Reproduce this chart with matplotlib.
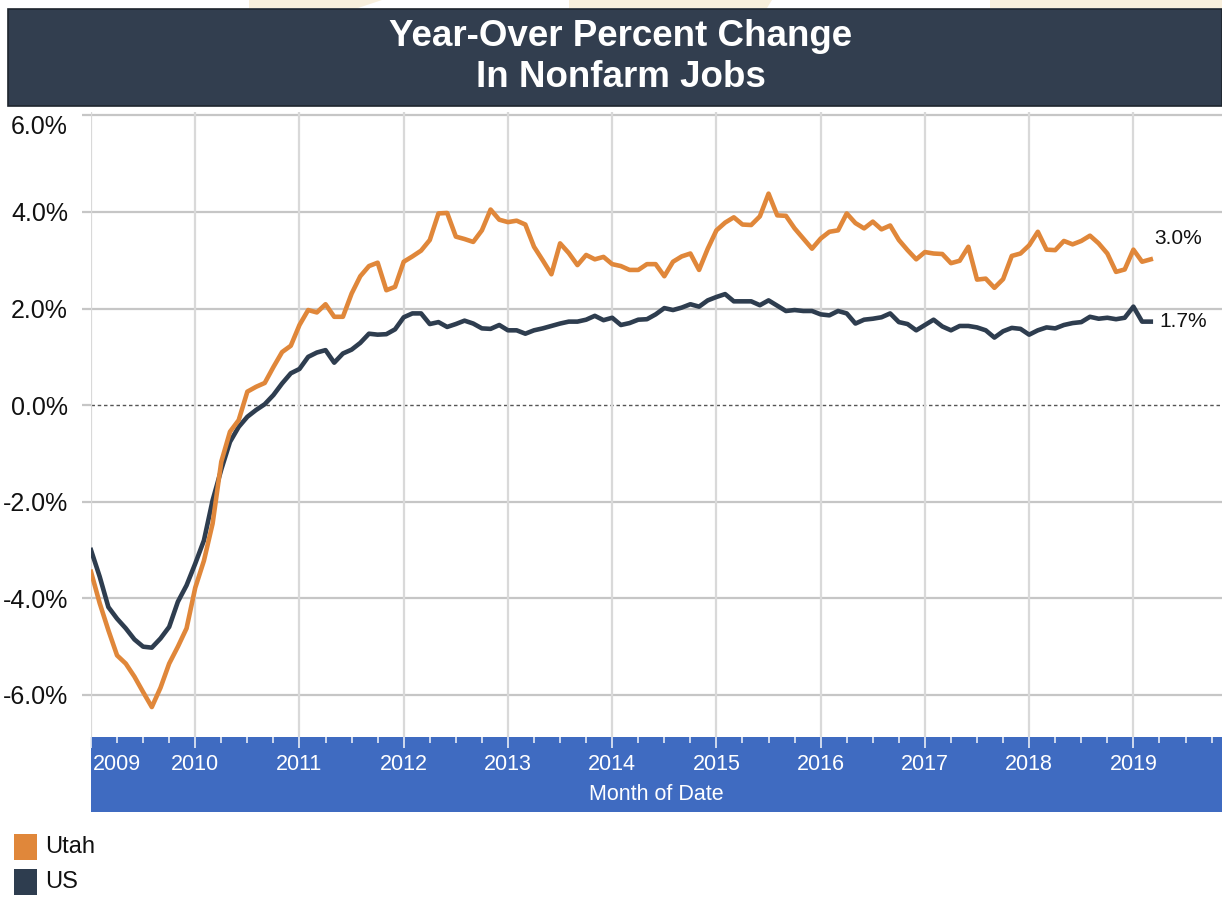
import matplotlib
matplotlib.use('Agg')
import matplotlib.pyplot as plt
import numpy as np
from matplotlib.patches import Rectangle, Polygon

plt.rcParams['font.family'] = ['Liberation Sans', 'DejaVu Sans']

# ---------------- data ----------------
title_text = 'Year-Over Percent Change\nIn Nonfarm Jobs'
x_label = 'Month of Date'
series_names = ['Utah', 'US']
years = [2009, 2010, 2011, 2012, 2013, 2014, 2015, 2016, 2017, 2018, 2019]
y_ticks = [-6, -4, -2, 0, 2, 4, 6]
y_tick_labels = ['-6.0%', '-4.0%', '-2.0%', '0.0%', '2.0%', '4.0%', '6.0%']

# monthly values, Jan 2009 .. Mar 2019
utah = [
    -3.45, -4.10, -4.66, -5.18, -5.35, -5.62, -5.94, -6.25, -5.85, -5.35, -5.00, -4.62,   # 2009
    -3.78, -3.22, -2.45, -1.17, -0.55, -0.31, 0.28, 0.38, 0.46, 0.79, 1.10, 1.23,        # 2010
    1.66, 1.97, 1.92, 2.09, 1.83, 1.83, 2.31, 2.67, 2.88, 2.95, 2.38, 2.45,              # 2011
    2.97, 3.08, 3.20, 3.42, 3.97, 3.98, 3.49, 3.44, 3.38, 3.62, 4.05, 3.84,              # 2012
    3.79, 3.82, 3.74, 3.28, 3.00, 2.71, 3.35, 3.15, 2.90, 3.11, 3.02, 3.07,              # 2013
    2.92, 2.88, 2.80, 2.80, 2.92, 2.92, 2.67, 2.97, 3.08, 3.14, 2.80, 3.24,              # 2014
    3.62, 3.78, 3.89, 3.74, 3.73, 3.91, 4.38, 3.93, 3.92, 3.66, 3.45, 3.24,              # 2015
    3.45, 3.59, 3.62, 3.97, 3.77, 3.66, 3.80, 3.64, 3.72, 3.42, 3.21, 3.02,              # 2016
    3.17, 3.14, 3.13, 2.94, 2.99, 3.28, 2.60, 2.62, 2.43, 2.61, 3.09, 3.14,              # 2017
    3.31, 3.59, 3.22, 3.21, 3.40, 3.33, 3.40, 3.51, 3.35, 3.14, 2.76, 2.81,              # 2018
    3.22, 2.97, 3.02,                                                                    # 2019
]
us = [
    -3.00, -3.55, -4.18, -4.42, -4.62, -4.85, -5.00, -5.02, -4.83, -4.59, -4.07, -3.73,  # 2009
    -3.28, -2.80, -1.97, -1.33, -0.76, -0.45, -0.24, -0.10, 0.02, 0.21, 0.45, 0.66,      # 2010
    0.75, 1.00, 1.09, 1.14, 0.88, 1.07, 1.15, 1.29, 1.48, 1.46, 1.47, 1.57,              # 2011
    1.82, 1.90, 1.90, 1.68, 1.72, 1.62, 1.68, 1.75, 1.69, 1.59, 1.58, 1.66,              # 2012
    1.55, 1.55, 1.48, 1.55, 1.59, 1.64, 1.69, 1.73, 1.73, 1.77, 1.85, 1.76,              # 2013
    1.81, 1.66, 1.70, 1.77, 1.78, 1.88, 2.01, 1.97, 2.02, 2.09, 2.04, 2.17,              # 2014
    2.24, 2.30, 2.15, 2.15, 2.15, 2.07, 2.17, 2.06, 1.95, 1.97, 1.95, 1.95,              # 2015
    1.88, 1.86, 1.95, 1.90, 1.69, 1.77, 1.79, 1.82, 1.90, 1.72, 1.68, 1.55,              # 2016
    1.66, 1.77, 1.63, 1.55, 1.64, 1.64, 1.61, 1.55, 1.40, 1.53, 1.60, 1.58,              # 2017
    1.46, 1.55, 1.61, 1.59, 1.66, 1.70, 1.72, 1.83, 1.79, 1.81, 1.78, 1.81,              # 2018
    2.04, 1.73, 1.73,                                                                    # 2019
]

# ---------------- style ----------------
W, H = 1222, 902
C_UTAH = '#E0873A'
C_US = '#2E3D4F'
C_TITLE = '#323E4F'
C_BAND = '#3F6BC1'
C_GRID_V = '#D9D9D9'
C_GRID_H = '#C6C6C6'

def fx(px):
    return px / W

def fy(py):
    return 1 - py / H

months = np.arange(len(utah))
year_pos = [(y - years[0]) * 12 for y in years]

fig = plt.figure(figsize=(W / 100, H / 100), dpi=100)
fig.patch.set_facecolor('white')

# faint decorative shapes at the very top
for poly in ([(249, 0), (382, 0), (358, 8), (249, 8)],
             [(569, 0), (772, 0), (767, 8), (569, 8)],
             [(990, 0), (1222, 0), (1222, 8), (990, 8)]):
    fig.patches.append(Polygon([(fx(a), fy(b)) for a, b in poly], closed=True,
                               transform=fig.transFigure, facecolor='#F8EFDC',
                               edgecolor='none', zorder=0))

# title box
fig.patches.append(Rectangle((fx(8), fy(106)), fx(1222) - fx(8), fy(9) - fy(106),
                             transform=fig.transFigure, facecolor=C_TITLE,
                             edgecolor='#1E252E', linewidth=1.2, zorder=1))
fig.text(fx(621), fy(57), title_text, ha='center', va='center', color='white',
         fontsize=26.5, fontweight='bold', linespacing=1.22, zorder=2)

# main axes
x_max = 130.2
ax = fig.add_axes([fx(91), fy(737), fx(1222) - fx(91), fy(112) - fy(737)])
ax.set_xlim(0, x_max)
ax.set_ylim(-6.87, 6.07)
for s in ax.spines.values():
    s.set_visible(False)

ax.set_xticks(year_pos)
ax.tick_params(axis='x', length=0, labelbottom=False)
ax.grid(axis='x', color=C_GRID_V, linewidth=1.6, zorder=0)

ax.set_yticks(y_ticks)
ax.set_yticklabels(y_tick_labels)
ax.tick_params(axis='y', length=6.5, width=1.6, color=C_GRID_H, pad=10,
               labelsize=18, labelcolor='#111111')
for t in y_ticks:
    if t == 0:
        ax.axhline(t, color='#555555', linewidth=1.0, linestyle=(0, (2.5, 2)), zorder=1)
    else:
        ax.axhline(t, color=C_GRID_H, linewidth=1.6, zorder=1)
ax.get_yticklabels()[-1].set_va('top')
ax.yaxis.get_major_ticks()[y_ticks.index(0)].tick1line.set_color('#555555')

ax.plot(months, us, color=C_US, linewidth=3.3, zorder=3, solid_joinstyle='round')
ax.plot(months, utah, color=C_UTAH, linewidth=3.3, zorder=4, solid_joinstyle='round')

ax.annotate(f'{utah[-1]:.1f}%', xy=(months[-1], utah[-1]), xytext=(3, 21),
            textcoords='offset pixels', ha='left', va='center', fontsize=15,
            color='#111111')
ax.annotate(f'{us[-1]:.1f}%', xy=(months[-1], us[-1]), xytext=(9, 0),
            textcoords='offset pixels', ha='left', va='center', fontsize=15,
            color='#111111')

# blue x-axis band
band = fig.add_axes([fx(91), fy(812), fx(1222) - fx(91), fy(737) - fy(812)])
band.set_facecolor(C_BAND)
band.set_xlim(0, x_max)
band.set_ylim(0, 1)
for s in band.spines.values():
    s.set_visible(False)
band.set_yticks([])
band.set_xticks(year_pos)
band.set_xticks(np.arange(0, x_max, 3), minor=True)
band.tick_params(axis='x', which='both', bottom=False, top=True, direction='in',
                 labelbottom=False, labeltop=False, color='#E8ECF5', width=1.2)
band.tick_params(axis='x', which='major', length=8)
band.tick_params(axis='x', which='minor', length=4)
xtr = band.get_xaxis_transform()
for i, (yr, pos) in enumerate(zip(years, year_pos)):
    if i == 0:
        band.text(pos + 0.25, 0.63, str(yr), transform=xtr, ha='left', va='center',
                  color='white', fontsize=15.5)
    else:
        band.text(pos, 0.63, str(yr), transform=xtr, ha='center', va='center',
                  color='white', fontsize=15.5)
band.text(0.5, 0.23, x_label, transform=band.transAxes, ha='center', va='center',
          color='white', fontsize=15.5)

# legend
for name, col, yc in zip(series_names, [C_UTAH, C_US], [847, 882]):
    fig.patches.append(Rectangle((fx(14), fy(yc + 13)), fx(37) - fx(14), fy(yc - 13) - fy(yc + 13),
                                 transform=fig.transFigure, facecolor=col,
                                 edgecolor='none'))
    fig.text(fx(45), fy(yc), name, ha='left', va='center', fontsize=17, color='#111111')

fig.savefig('out.png', dpi=100, facecolor='white')
